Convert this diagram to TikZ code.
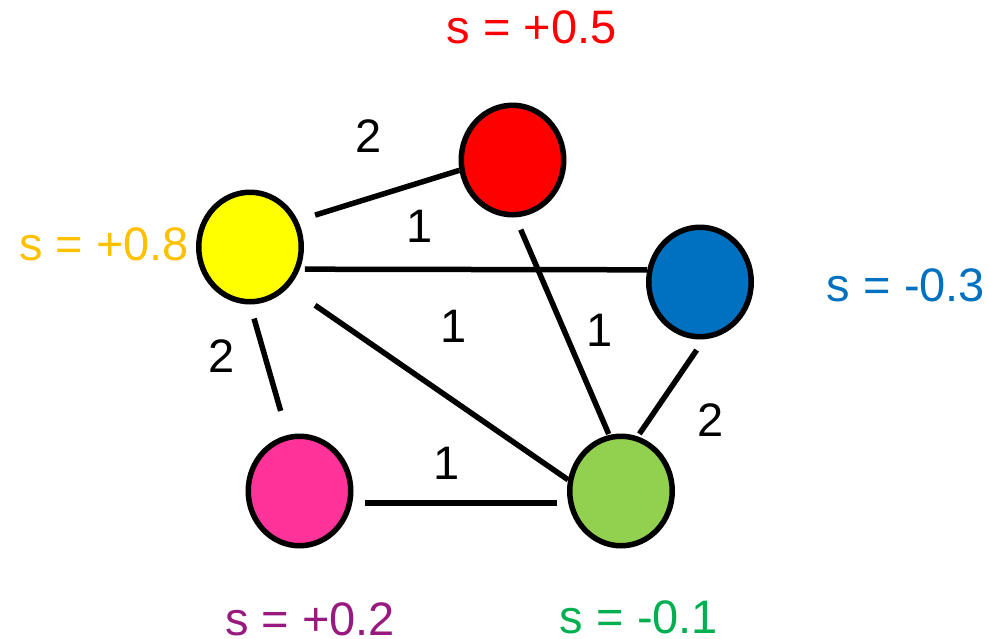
\documentclass[tikz,border=0pt]{standalone}
\usepackage{fontspec}
\setmainfont{Liberation Sans}
\usetikzlibrary{shapes.geometric}

\definecolor{nodered}{HTML}{FF0000}
\definecolor{nodeyellow}{HTML}{FFFF00}
\definecolor{nodeblue}{HTML}{0070C0}
\definecolor{nodepink}{HTML}{FF3399}
\definecolor{nodegreen}{HTML}{92D050}
\definecolor{textgold}{HTML}{FFC000}
\definecolor{textpurple}{HTML}{991A7F}
\definecolor{textgreen}{HTML}{00B050}

\begin{document}
\begin{tikzpicture}[
            x=1pt, y=-1pt,
            agent/.style={draw, ellipse, line width=5.5pt, minimum width=102.5pt, minimum height=109.5pt, inner sep=0pt},
            link/.style={line width=5.5pt},
            score/.style={anchor=base, inner sep=0pt, font=\fontsize{47}{56}\selectfont},
            weight/.style={anchor=base, inner sep=0pt, font=\fontsize{47}{56}\selectfont}
        ]
        \useasboundingbox (0,0) rectangle (989,638);
        % agents
        \node[agent, fill=nodered] (red) at (512.5,160) {};
        \node[agent, fill=nodeyellow] (yellow) at (250,247) {};
        \node[agent, fill=nodeblue] (blue) at (700,282) {};
        \node[agent, fill=nodepink] (pink) at (299.5,491) {};
        \node[agent, fill=nodegreen] (green) at (621,491) {};
        % links
        \draw[link, shorten <=18pt] (yellow.29) -- (red.191);
        \draw[link, shorten <=5pt] (yellow.336) -- (blue.167);
        \draw[link, shorten <=32pt] (yellow.314) -- (green.168);
        \draw[link, shorten <=14.6pt, shorten >=25pt] (yellow.270) -- (pink.102);
        \draw[link, shorten <=13.3pt, shorten >=1pt] (red.273) -- (green.102);
        \draw[link, shorten <=13pt, shorten >=3pt] (blue.274) -- (green.73);
        \draw[link, shorten <=12.5pt, shorten >=11.4pt] (pink.347) -- (green.193);
        % weights
        \node[weight] (wyr) at (368.5,152) {2};
        \node[weight] (wyb) at (419.7,242) {1};
        \node[weight] (wyg) at (453.7,342) {1};
        \node[weight] (wrg) at (599.7,346) {1};
        \node[weight] (wbg) at (711,436) {2};
        \node[weight] (wyp) at (221.7,372.7) {2};
        \node[weight] (wpg) at (446.7,479) {1};
        % scores
        \node[score, text=nodered] (sred) at (531.5,43) {s = +0.5};
        \node[score, text=textgold] (syellow) at (104,260) {s = +0.8};
        \node[score, text=nodeblue] (sblue) at (906,301.7) {s = -0.3};
        \node[score, text=textpurple] (spink) at (310,635) {s = +0.2};
        \node[score, text=textgreen] (sgreen) at (639,633.3) {s = -0.1};
        \end{tikzpicture}
\end{document}
